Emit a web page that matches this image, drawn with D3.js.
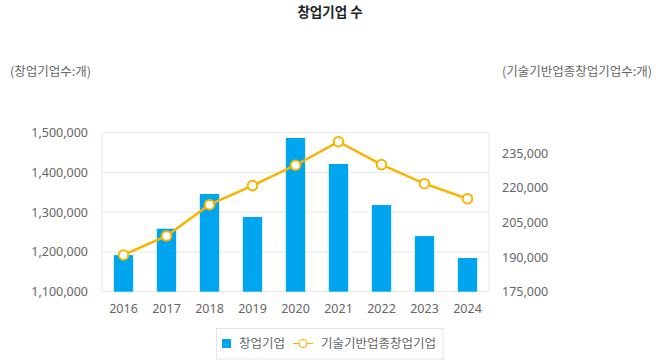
<!DOCTYPE html>
<html><head><meta charset="utf-8">
<script src="https://cdn.jsdelivr.net/npm/d3@7"></script>
<style>
body{margin:0;background:#fff;}
svg{display:block;font-family:"Noto Sans CJK KR","Noto Sans",sans-serif;}
</style></head>
<body><svg id="c" width="660" height="360"></svg>
<script>
const years = ["2016","2017","2018","2019","2020","2021","2022","2023","2024"];
const startups = [1192000,1258500,1345800,1288000,1486700,1421300,1318000,1240000,1184800];
const techStartups = [190900,199150,212700,220950,229800,240000,230060,221800,215300];
const leftTicks = [1100000,1200000,1300000,1400000,1500000];
const rightTicks = [175000,190000,205000,220000,235000];
const title = "창업기업 수";
const leftTitle = "(창업기업수:개)";
const rightTitle = "(기술기반업종창업기업수:개)";
const seriesNames = ["창업기업","기술기반업종창업기업"];

const barColor = "#00A5EF", lineColor = "#F7B500", gridColor = "#e8e8e8", textColor = "#666";
const svg = d3.select("#c");
const L = 102, R = 489, T = 132.7, B = 291.7;

const x = d3.scaleBand().domain(years).range([L, R]).paddingInner(0.55).paddingOuter(0.275);
const yL = d3.scaleLinear().domain([1100000, 1500000]).range([B, T]);
const yR = d3.scaleLinear().domain([175000, 243900]).range([B, T]);
const fmt = d3.format(",");

// grid
svg.append("g").selectAll("line").data(leftTicks).join("line")
  .attr("x1", L).attr("x2", R).attr("y1", d => yL(d)).attr("y2", d => yL(d))
  .attr("stroke", gridColor).attr("stroke-width", 1);
svg.append("g").selectAll("line").data([L, R]).join("line")
  .attr("x1", d => d).attr("x2", d => d).attr("y1", T).attr("y2", B)
  .attr("stroke", gridColor).attr("stroke-width", 1);

// left axis
const ga = svg.append("g").attr("transform", `translate(${L},0)`)
  .call(d3.axisLeft(yL).tickValues(leftTicks).tickFormat(fmt).tickSize(0).tickPadding(14));
ga.select(".domain").remove();
ga.selectAll("text").attr("fill", textColor).style("font-size", "12.5px").style("font-family", "'Noto Sans','Noto Sans CJK KR',sans-serif");

// right axis
const gr = svg.append("g").attr("transform", `translate(${R},0)`)
  .call(d3.axisRight(yR).tickValues(rightTicks).tickFormat(fmt).tickSize(0).tickPadding(13));
gr.select(".domain").remove();
gr.selectAll("text").attr("fill", textColor).style("font-size", "12.5px").style("font-family", "'Noto Sans','Noto Sans CJK KR',sans-serif");

// x axis
const gx = svg.append("g").attr("transform", `translate(0,${B})`)
  .call(d3.axisBottom(x).tickSize(0).tickPadding(12));
gx.select(".domain").remove();
gx.selectAll("text").attr("fill", textColor).style("font-size", "12.5px").style("font-family", "'Noto Sans','Noto Sans CJK KR',sans-serif");

// bars
svg.append("g").selectAll("rect").data(years).join("rect")
  .attr("x", d => x(d)).attr("width", x.bandwidth())
  .attr("y", (d, i) => yL(startups[i])).attr("height", (d, i) => B - yL(startups[i]))
  .attr("fill", barColor);

// line
const cx = d => x(d) + x.bandwidth() / 2;
svg.append("path").datum(years)
  .attr("d", d3.line().x(d => cx(d)).y((d, i) => yR(techStartups[i])))
  .attr("fill", "none").attr("stroke", lineColor).attr("stroke-width", 2.5);
svg.append("g").selectAll("circle").data(years).join("circle")
  .attr("cx", d => cx(d)).attr("cy", (d, i) => yR(techStartups[i])).attr("r", 4.8)
  .attr("fill", "#fff").attr("stroke", lineColor).attr("stroke-width", 2);

// titles
svg.append("text").attr("x", 330).attr("y", 17).attr("text-anchor", "middle")
  .attr("fill", "#222").style("font-size", "13.5px").style("font-weight", "bold").text(title);
svg.append("text").attr("x", 10).attr("y", 76).attr("fill", textColor)
  .style("font-size", "12.5px").text(leftTitle);
svg.append("text").attr("x", 652).attr("y", 76).attr("text-anchor", "end").attr("fill", textColor)
  .style("font-size", "12.5px").text(rightTitle);

// legend
const lg = svg.append("g");
lg.append("rect").attr("x", 216.5).attr("y", 328.5).attr("width", 226.5).attr("height", 30.5)
  .attr("fill", "#fff").attr("stroke", "#e3e3e3");
lg.append("rect").attr("x", 222).attr("y", 339).attr("width", 9).attr("height", 9).attr("fill", barColor);
lg.append("text").attr("x", 239).attr("y", 348).attr("fill", textColor).style("font-size", "12.5px").text(seriesNames[0]);
lg.append("line").attr("x1", 293).attr("x2", 313).attr("y1", 343.5).attr("y2", 343.5)
  .attr("stroke", lineColor).attr("stroke-width", 1);
lg.append("circle").attr("cx", 303).attr("cy", 343.5).attr("r", 4).attr("fill", "#fff")
  .attr("stroke", lineColor).attr("stroke-width", 1.2);
lg.append("text").attr("x", 321).attr("y", 348).attr("fill", textColor).style("font-size", "12.5px").text(seriesNames[1]);
</script></body></html>
